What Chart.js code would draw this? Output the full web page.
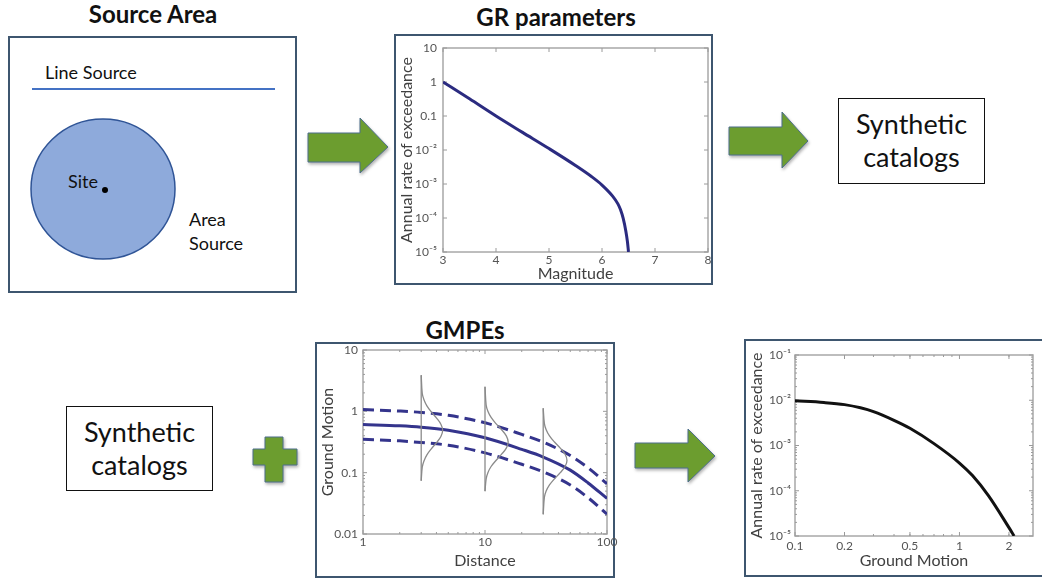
<!DOCTYPE html>
<html>
<head>
<meta charset="utf-8">
<script src="https://cdn.jsdelivr.net/npm/chart.js@4.4.1/dist/chart.umd.min.js"></script>
<style>
  html, body { margin: 0; padding: 0; background: #fff; overflow: hidden; }
  #stage { position: relative; width: 1042px; height: 579px; font-family: Lato, "Open Sans", sans-serif; color: #111; }
  .lbl { position: absolute; white-space: nowrap; line-height: 1.2; transform: translateY(-50%); }
  .head { font-weight: bold; font-size: 24px; transform: translate(-50%, -50%); }
  .box { position: absolute; box-sizing: border-box; border: 2px solid #3e566f; }
  .cat { position: absolute; box-sizing: border-box; border: 1.5px solid #111; font-size: 27px;
         display: flex; flex-direction: column; align-items: center; justify-content: center; line-height: 1.22; }
  .plot { position: absolute; }
  svg { position: absolute; left: 0; top: 0; }
  .arrow { fill: #6c9d2f; stroke: #4d6f8c; stroke-width: 1; filter: drop-shadow(1px 2px 1.5px rgba(0,0,0,0.3)); }
</style>
</head>
<body>
<div id="stage">
  <div class="lbl head" style="left:153px; top:14px;">Source Area</div>
  <div class="lbl head" style="left:556px; top:17px;">GR parameters</div>
  <div class="lbl head" style="left:465px; top:330px;">GMPEs</div>

  <div class="box" style="left:8px; top:36px; width:289px; height:257px;"></div>
  <div class="box" style="left:394px; top:34px; width:319px; height:251px;"></div>
  <div class="box" style="left:315px; top:342px; width:300px; height:236px;"></div>
  <div class="box" style="left:744px; top:339px; width:310px; height:238px;"></div>

  <svg width="1042" height="579">
    <line x1="32" y1="89" x2="275" y2="89" stroke="#4472c4" stroke-width="2"/>
    <ellipse cx="103" cy="189" rx="72" ry="70" fill="#8eaadb" stroke="#2f5496" stroke-width="1.5"/>
    <circle cx="105" cy="190" r="3" fill="#000"/>
    <polygon class="arrow" points="308,133 360,133 360,118 388,147 360,173 360,162 308,162"/>
    <polygon class="arrow" points="729,127 782,127 782,112 808,141 782,168 782,155 729,155"/>
    <polygon class="arrow" points="635,443 688,443 688,429 715,456 688,482 688,468 635,468"/>
    <polygon class="arrow" points="265,437 283,437 283,449 297,449 297,465 283,465 283,482 265,482 265,465 253,465 253,449 265,449"/>
  </svg>

  <div class="lbl" style="left:45px; top:73px; font-size:18px;">Line Source</div>
  <div class="lbl" style="left:68px; top:182px; font-size:18px;">Site</div>
  <div class="lbl" style="left:189px; top:220px; font-size:18px;">Area</div>
  <div class="lbl" style="left:189px; top:244px; font-size:18px;">Source</div>

  <div class="cat" style="left:838px; top:98px; width:147px; height:86px;"><span>Synthetic</span><span>catalogs</span></div>
  <div class="cat" style="left:66px; top:406px; width:147px; height:85px;"><span>Synthetic</span><span>catalogs</span></div>

  <div class="plot" style="left:376px; top:28px; width:360px; height:275px;"><canvas id="grChart"></canvas></div>
  <div class="plot" style="left:297px; top:330px; width:340px; height:266px;"><canvas id="gmpeChart"></canvas></div>
  <div class="plot" style="left:726px; top:335px; width:316px; height:260px;"><canvas id="hazardChart"></canvas></div>
</div>

<script>
// Gutenberg-Richter recurrence (truncated at Mmax)
const grMagnitude = [3, 3.5, 4, 4.5, 5, 5.5, 5.8, 6, 6.2, 6.3, 6.35, 6.4, 6.45, 6.48, 6.5];
const grRate = [1, 0.32, 0.1, 0.033, 0.011, 0.0035, 0.00166, 0.00093, 0.00044, 0.00026, 0.000174, 0.000097, 0.000041, 0.00002, 0.00001];
const grXTicks = [3, 4, 5, 6, 7, 8];
const grXLabels = ['3', '4', '5', '6', '7', '8'];
const grYTicks = [1e-5, 1e-4, 1e-3, 1e-2, 0.1, 1, 10];
const grYLabels = ['10⁻⁵', '10⁻⁴', '10⁻³', '10⁻²', '0.1', '1', '10'];

// Ground motion prediction: median and +/- one sigma
const gmpeDistance = [1, 2, 3, 5, 10, 20, 30, 50, 70, 100];
const gmpeMedian = [0.61, 0.58, 0.55, 0.49, 0.37, 0.24, 0.18, 0.11, 0.068, 0.038];
const gmpePlusSigma = [1.07, 1.01, 0.96, 0.86, 0.65, 0.42, 0.315, 0.19, 0.12, 0.066];
const gmpeMinusSigma = [0.35, 0.33, 0.31, 0.28, 0.21, 0.137, 0.103, 0.063, 0.039, 0.021];

// scatter distributions drawn at three distances
const pdf3Distance = [3, 3.06, 3.16, 3.34, 3.63, 4.01, 4.35, 4.5, 4.35, 4.01, 3.63, 3.34, 3.16, 3.06, 3];
const pdf3Motion = [3.89, 1.95, 1.55, 1.23, 0.977, 0.776, 0.617, 0.49, 0.389, 0.309, 0.245, 0.195, 0.155, 0.123, 0.074];
const pdf10Distance = [10, 10.22, 10.56, 11.22, 12.3, 13.68, 14.95, 15.49, 14.95, 13.68, 12.3, 11.22, 10.56, 10.22, 10];
const pdf10Motion = [2.51, 1.26, 1.0, 0.794, 0.631, 0.501, 0.398, 0.316, 0.251, 0.2, 0.158, 0.126, 0.1, 0.0794, 0.05];
const pdf30Distance = [30, 30.68, 31.72, 33.77, 37.09, 41.4, 45.35, 46.99, 45.35, 41.4, 37.09, 33.77, 31.72, 30.68, 30];
const pdf30Motion = [1.12, 0.631, 0.501, 0.398, 0.316, 0.251, 0.2, 0.158, 0.126, 0.1, 0.0794, 0.0631, 0.0501, 0.0398, 0.0209];

const gmpeXTicks = [1, 10, 100];
const gmpeXLabels = ['1', '10', '100'];
const gmpeYTicks = [0.01, 0.1, 1, 10];
const gmpeYLabels = ['0.01', '0.1', '1', '10'];

// hazard curve
const hazardMotion = [0.1, 0.15, 0.2, 0.25, 0.3, 0.4, 0.5, 0.7, 1, 1.2, 1.5, 2, 2.15];
const hazardRate = [0.0097, 0.0089, 0.008, 0.0068, 0.0056, 0.0036, 0.0024, 0.0011, 0.00041, 0.000216, 0.000078, 0.0000153, 0.00001];
const hazardXTicks = [0.1, 0.2, 0.5, 1, 2];
const hazardXLabels = ['0.1', '0.2', '0.5', '1', '2'];
const hazardYTicks = [1e-5, 1e-4, 1e-3, 1e-2, 0.1];
const hazardYLabels = ['10⁻⁵', '10⁻⁴', '10⁻³', '10⁻²', '10⁻¹'];

Chart.defaults.font.family = 'Lato, "Open Sans", sans-serif';
Chart.defaults.animation = false;

function pairs(xs, ys) {
  return xs.map((x, i) => ({ x: x, y: ys[i] }));
}

// minor ticks 2..9 for every decade between lo and hi
function decadeMinors(lo, hi) {
  const out = [];
  for (let d = lo; d < hi; d *= 10) {
    for (let k = 2; k <= 9; k++) out.push(d * k);
  }
  return out;
}

// box around the plot area with inward tick marks, matlab style
const framePlugin = {
  id: 'frame',
  beforeDatasetsDraw(chart, args, opts) {
    const { ctx, chartArea: a, scales } = chart;
    ctx.save();
    ctx.strokeStyle = '#a8a8a8';
    ctx.lineWidth = 1.5;
    ctx.strokeRect(a.left, a.top, a.right - a.left, a.bottom - a.top);
    ctx.lineWidth = 1;
    ctx.strokeStyle = '#9a9a9a';
    const tickX = (v, len) => {
      const px = scales.x.getPixelForValue(v);
      if (px < a.left - 0.5 || px > a.right + 0.5) return;
      ctx.beginPath();
      ctx.moveTo(px, a.bottom); ctx.lineTo(px, a.bottom - len);
      ctx.moveTo(px, a.top); ctx.lineTo(px, a.top + len);
      ctx.stroke();
    };
    const tickY = (v, len) => {
      const py = scales.y.getPixelForValue(v);
      if (py < a.top - 0.5 || py > a.bottom + 0.5) return;
      ctx.beginPath();
      ctx.moveTo(a.left, py); ctx.lineTo(a.left + len, py);
      ctx.moveTo(a.right, py); ctx.lineTo(a.right - len, py);
      ctx.stroke();
    };
    scales.x.ticks.forEach(t => tickX(t.value, 4));
    scales.y.ticks.forEach(t => tickY(t.value, 4));
    (opts.minorX || []).forEach(v => tickX(v, 2));
    (opts.minorY || []).forEach(v => tickY(v, 2));
    ctx.restore();
  }
};

function axis(o) {
  return {
    type: o.type,
    min: o.min,
    max: o.max,
    grid: { display: false, drawTicks: false },
    border: { display: false },
    afterBuildTicks: s => { s.ticks = o.ticks.map(v => ({ value: v })); },
    afterFit: s => {
      if (o.width) s.width = o.width;
      if (o.height) s.height = o.height;
    },
    ticks: {
      autoSkip: false,
      maxRotation: 0,
      padding: o.tickPad,
      color: '#555',
      font: { size: 12 },
      callback: (v, i) => o.labels[i]
    },
    title: {
      display: true,
      text: o.title,
      color: '#404040',
      font: { size: 16 },
      padding: o.titlePad
    }
  };
}

function lineSet(data, color, width, dash) {
  return {
    data: data,
    borderColor: color,
    borderWidth: width,
    borderDash: dash || [],
    pointRadius: 0,
    fill: false,
    cubicInterpolationMode: 'monotone'
  };
}

function curveSet(data, color, width) {
  return { data: data, borderColor: color, borderWidth: width, pointRadius: 0, fill: false, tension: 0.35 };
}

function stemSet(xs, ys, color) {
  return lineSet([{ x: xs[0], y: ys[0] }, { x: xs[0], y: ys[ys.length - 1] }], color, 1.3);
}

const basePlugins = { legend: { display: false }, tooltip: { enabled: false } };

new Chart(document.getElementById('grChart'), {
  type: 'line',
  data: { datasets: [lineSet(pairs(grMagnitude, grRate), '#2b2b80', 3)] },
  options: {
    responsive: true,
    maintainAspectRatio: false,
    layout: { padding: { left: 20, top: 20, right: 28, bottom: 20 } },
    scales: {
      x: axis({ type: 'linear', min: 3, max: 8, ticks: grXTicks, labels: grXLabels, title: 'Magnitude',
                height: 31, tickPad: 1, titlePad: { top: 0, bottom: 0 } }),
      y: axis({ type: 'logarithmic', min: 1e-5, max: 10, ticks: grYTicks, labels: grYLabels,
                title: 'Annual rate of exceedance', width: 47, tickPad: 6, titlePad: { top: 1, bottom: 0 } })
    },
    plugins: Object.assign({ frame: {} }, basePlugins)
  },
  plugins: [framePlugin]
});

const pdfColor = '#8a8a8a';
const gmpeNavy = '#34348c';

new Chart(document.getElementById('gmpeChart'), {
  type: 'line',
  data: {
    datasets: [
      curveSet(pairs(pdf3Distance, pdf3Motion), pdfColor, 1.3),
      curveSet(pairs(pdf10Distance, pdf10Motion), pdfColor, 1.3),
      curveSet(pairs(pdf30Distance, pdf30Motion), pdfColor, 1.3),
      stemSet(pdf3Distance, pdf3Motion, pdfColor),
      stemSet(pdf10Distance, pdf10Motion, pdfColor),
      stemSet(pdf30Distance, pdf30Motion, pdfColor),
      lineSet(pairs(gmpeDistance, gmpeMedian), gmpeNavy, 3),
      lineSet(pairs(gmpeDistance, gmpePlusSigma), gmpeNavy, 3, [11, 6]),
      lineSet(pairs(gmpeDistance, gmpeMinusSigma), gmpeNavy, 3, [11, 6])
    ]
  },
  options: {
    responsive: true,
    maintainAspectRatio: false,
    layout: { padding: { left: 20, top: 20, right: 30, bottom: 20 } },
    scales: {
      x: axis({ type: 'logarithmic', min: 1, max: 100, ticks: gmpeXTicks, labels: gmpeXLabels, title: 'Distance',
                height: 42, tickPad: 1, titlePad: { top: 0, bottom: 6 } }),
      y: axis({ type: 'logarithmic', min: 0.01, max: 10, ticks: gmpeYTicks, labels: gmpeYLabels,
                title: 'Ground Motion', width: 46, tickPad: 5, titlePad: { top: 1, bottom: 0 } })
    },
    plugins: Object.assign({ frame: { minorX: decadeMinors(1, 100), minorY: decadeMinors(0.01, 10) } }, basePlugins)
  },
  plugins: [framePlugin]
});

new Chart(document.getElementById('hazardChart'), {
  type: 'line',
  data: { datasets: [lineSet(pairs(hazardMotion, hazardRate), '#111', 3)] },
  options: {
    responsive: true,
    maintainAspectRatio: false,
    layout: { padding: { left: 20, top: 20, right: 9, bottom: 20 } },
    scales: {
      x: axis({ type: 'logarithmic', min: 0.1, max: 2.8, ticks: hazardXTicks, labels: hazardXLabels, title: 'Ground Motion',
                height: 39, tickPad: 3, titlePad: { top: 0, bottom: 5 } }),
      y: axis({ type: 'logarithmic', min: 1e-5, max: 0.1, ticks: hazardYTicks, labels: hazardYLabels,
                title: 'Annual rate of exceedance', width: 49, tickPad: 4, titlePad: { top: 1, bottom: 0 } })
    },
    plugins: Object.assign({ frame: { minorX: decadeMinors(0.1, 1).concat([2]), minorY: decadeMinors(1e-5, 0.1) } }, basePlugins)
  },
  plugins: [framePlugin]
});
</script>
</body>
</html>
